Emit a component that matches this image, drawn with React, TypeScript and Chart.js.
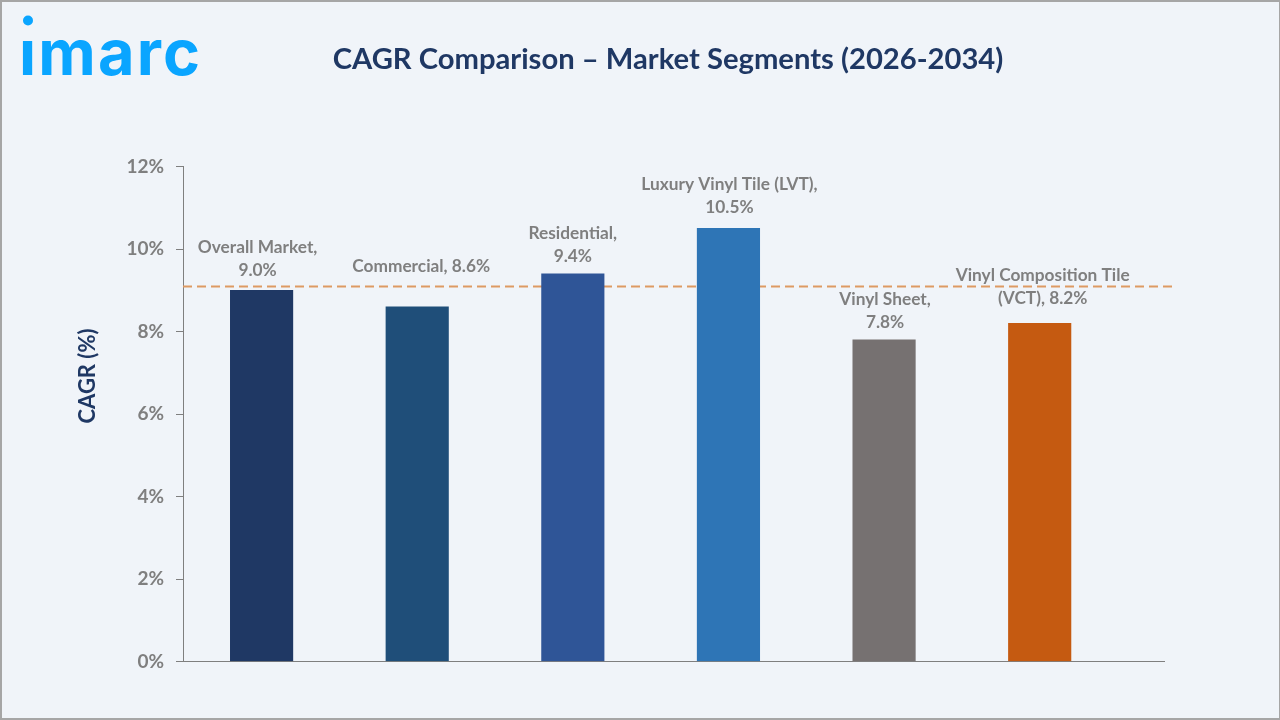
import { useEffect, useRef } from 'react';
import { Chart, registerables } from 'chart.js';

Chart.register(...registerables);

const categories = ['Overall Market', 'Commercial', 'Residential', 'Luxury Vinyl Tile (LVT)', 'Vinyl Sheet', 'Vinyl Composition Tile (VCT)'];
const cagrValues = [9.0, 8.6, 9.4, 10.5, 7.8, 8.2];
const barColors = ['#1f3864', '#1f4e79', '#2f5597', '#2e75b6', '#767171', '#c55a11'];
const barLabels = [
  ['Overall Market,', '9.0%'],
  ['Commercial, 8.6%'],
  ['Residential,', '9.4%'],
  ['Luxury Vinyl Tile (LVT),', '10.5%'],
  ['Vinyl Sheet,', '7.8%'],
  ['Vinyl Composition Tile', '(VCT), 8.2%'],
];
const referenceValue = 9.09;

// label tweaks relative to the bar: [dx, gap from the bar top to the last line]
const labelNudges = [[-4, 20], [4, 40], [0, 17], [1, 21], [1, 17], [3, 25]];

const FONT = 'Lato, "Noto Sans", sans-serif';

const extrasPlugin = {
  id: 'extras',
  afterDatasetsDraw(chart: Chart) {
    const { ctx, scales } = chart;
    const bars = chart.getDatasetMeta(0).data;
    ctx.save();
    ctx.textAlign = 'center';
    ctx.textBaseline = 'middle';

    // bar labels
    ctx.font = `bold 17.3px ${FONT}`;
    ctx.fillStyle = '#7f7f7f';
    barLabels.forEach((lines, i) => {
      const [dx, gap] = labelNudges[i];
      const x = bars[i].x + dx;
      const lastY = scales.y.getPixelForValue(cagrValues[i]) - gap;
      lines.forEach((line, j) => {
        ctx.fillText(line, x, lastY - (lines.length - 1 - j) * 23);
      });
    });

    // title
    ctx.font = `bold 29.2px ${FONT}`;
    ctx.fillStyle = '#1f3864';
    ctx.fillText('CAGR Comparison – Market Segments (2026-2034)', 668, 60);

    // y axis title sits above the axis centre, so the scale's own title can't be used
    ctx.save();
    ctx.translate(88, 376);
    ctx.rotate(-Math.PI / 2);
    ctx.font = `bold 22px ${FONT}`;
    ctx.fillText('CAGR (%)', 0, 0);
    ctx.restore();

    // logo: the wordmark's i has its dot sitting higher than the font's
    ctx.fillStyle = '#0aa5ff';
    ctx.beginPath();
    ctx.rect(0, 38, 300, 50);
    ctx.clip();
    ctx.font = `bold 63px Inter, ${FONT}`;
    (ctx as any).letterSpacing = '2.2px';
    ctx.textAlign = 'left';
    ctx.textBaseline = 'alphabetic';
    ctx.fillText('imarc', 19, 75);
    ctx.restore();

    ctx.save();
    ctx.fillStyle = '#0aa5ff';
    ctx.beginPath();
    ctx.arc(28, 20.5, 5, 0, Math.PI * 2);
    ctx.fill();
    ctx.restore();
  },
};

export default function App() {
  const canvasRef = useRef<HTMLCanvasElement>(null);

  useEffect(() => {
    if (!canvasRef.current) return;
    const chart = new Chart(canvasRef.current, {
      type: 'bar',
      data: {
        labels: categories,
        datasets: [
          {
            type: 'bar',
            data: cagrValues.map((y, x) => ({ x, y })),
            backgroundColor: barColors,
            barThickness: 62.5,
            order: 0,
          },
          {
            type: 'line',
            data: [{ x: -0.505, y: referenceValue }, { x: 5.852, y: referenceValue }],
            borderColor: '#dd9a63',
            borderWidth: 2,
            borderDash: [9, 5],
            pointRadius: 0,
            clip: false,
            order: 1,
          },
        ] as any,
      },
      options: {
        animation: false,
        responsive: false,
        layout: { padding: { top: 166.5, right: 115.5, bottom: 58.5, left: 0 } },
        plugins: { legend: { display: false }, tooltip: { enabled: false } },
        scales: {
          x: {
            type: 'linear',
            offset: false,
            min: -0.505,
            max: 5.802,
            grid: { display: false, drawTicks: false },
            border: { color: '#7f7f7f', width: 1 },
            ticks: { display: false },
            afterFit: (scale: any) => { scale.height = 0; },
          },
          y: {
            min: 0,
            max: 12,
            grid: { drawOnChartArea: false, drawTicks: true, tickLength: 7, color: '#7f7f7f' },
            border: { color: '#7f7f7f', width: 1 },
            ticks: {
              stepSize: 2,
              padding: 12,
              color: '#7f7f7f',
              font: { family: FONT, size: 19, weight: 'bold' },
              callback: (v: any) => `${v}%`,
            },
            afterFit: (scale: any) => { scale.width = 183; },
          },
        },
      } as any,
      plugins: [extrasPlugin],
    });
    return () => chart.destroy();
  }, []);

  return (
    <div
      style={{
        position: 'relative',
        width: 1280,
        height: 720,
        boxSizing: 'border-box',
        background: '#f0f4f9',
        overflow: 'hidden',
      }}
    >
      <style>{'body{margin:0}'}</style>
      <canvas ref={canvasRef} width={1280} height={720} style={{ position: 'absolute', left: 0, top: 0 }} />
      <div
        style={{
          position: 'absolute',
          inset: 0,
          borderStyle: 'solid',
          borderColor: '#a6a6a6',
          borderWidth: '2px 1px 2px 2px',
          pointerEvents: 'none',
        }}
      />
    </div>
  );
}
